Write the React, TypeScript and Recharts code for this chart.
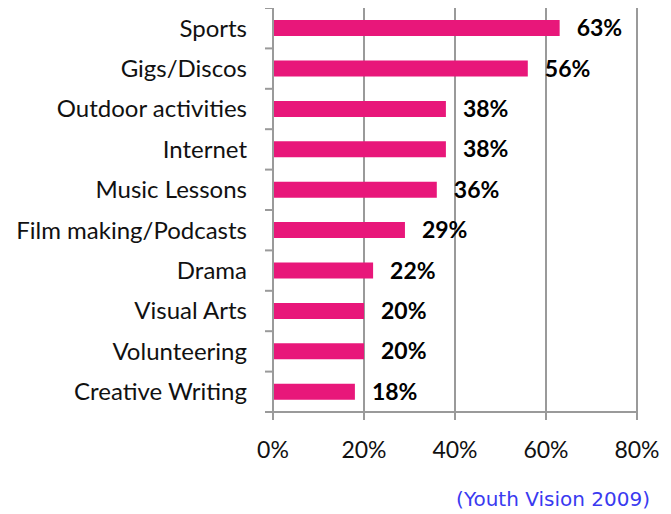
import React from "react";
import { BarChart, Bar, XAxis, YAxis, CartesianGrid, LabelList } from "recharts";

const categories = [
    "Sports",
    "Gigs/Discos",
    "Outdoor activities",
    "Internet",
    "Music Lessons",
    "Film making/Podcasts",
    "Drama",
    "Visual Arts",
    "Volunteering",
    "Creative Writing",
];
const percentages = [63, 56, 38, 38, 36, 29, 22, 20, 20, 18];
const xTicks = [0, 20, 40, 60, 80];
const sourceNote = "(Youth Vision 2009)";

const chartData = categories.map((name, i) => ({ name, value: percentages[i] }));

const FONT = "Lato, 'Open Sans', sans-serif";
const GRID = "#9a9a9a";
const BAR = "#E8177A";

// plot geometry (chart coords)
const PLOT_LEFT = 265;
const PLOT_TOP = 0;
const PLOT_H = 404;
const BAND = PLOT_H / categories.length;

const CategoryTick = (props: any) => {
    const { y, payload, index } = props;
    return (
        <g>
            <line x1={PLOT_LEFT - 8} x2={PLOT_LEFT} y1={y - BAND / 2} y2={y - BAND / 2} stroke={GRID} strokeWidth={2} />
            {index === categories.length - 1 && (
                <line x1={PLOT_LEFT - 8} x2={PLOT_LEFT} y1={y + BAND / 2} y2={y + BAND / 2} stroke={GRID} strokeWidth={2} />
            )}
            <text x={PLOT_LEFT - 26} y={y} dy="0.35em" textAnchor="end" fontSize={24} fontFamily={FONT} fill="#111">
                {payload.value}
            </text>
        </g>
    );
};

const App: React.FC = () => {
    return (
        <div style={{ position: "relative", width: 655, height: 506 }}>
            <BarChart
                width={655}
                height={470}
                data={chartData}
                layout="vertical"
                margin={{ top: PLOT_TOP, right: 26, bottom: 0, left: 0 }}
                barCategoryGap="30%"
            >
                <CartesianGrid horizontal={false} stroke={GRID} strokeWidth={2} />
                <XAxis
                    type="number"
                    domain={[0, 80]}
                    ticks={xTicks}
                    tickFormatter={(v) => `${v}%`}
                    stroke={GRID}
                    strokeWidth={2}
                    tickSize={8}
                    tickMargin={22}
                    height={66}
                    tick={{ fill: "#111", fontSize: 23, fontFamily: FONT }}
                />
                <YAxis
                    type="category"
                    dataKey="name"
                    width={PLOT_LEFT}
                    stroke={GRID}
                    strokeWidth={2}
                    tickLine={false}
                    tick={<CategoryTick />}
                    interval={0}
                />
                <Bar dataKey="value" fill={BAR} isAnimationActive={false}>
                    <LabelList
                        dataKey="value"
                        position="right"
                        offset={17}
                        formatter={(v: any) => `${v}%`}
                        fill="#000"
                        fontWeight="bold"
                        fontSize={23}
                        fontFamily={FONT}
                    />
                </Bar>
            </BarChart>
            <div
                style={{
                    position: "absolute",
                    top: 480,
                    right: 13,
                    color: "#3a3af0",
                    fontFamily: "'DejaVu Sans', sans-serif",
                    fontSize: 20,
                    lineHeight: "22px",
                }}
            >
                {sourceNote}
            </div>
        </div>
    );
};

export default App;
